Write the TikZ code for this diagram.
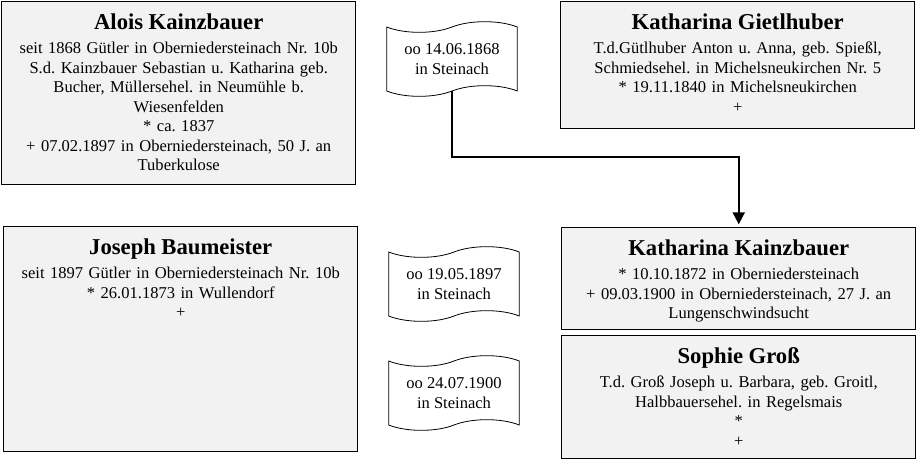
\documentclass[tikz,border=0pt]{standalone}
\usepackage{fontspec}
\setmainfont{Liberation Serif}
\usetikzlibrary{shapes.symbols,arrows.meta}

\definecolor{boxgray}{HTML}{F2F2F2}
\newcommand{\fullname}[1]{{\fontsize{17}{18}\selectfont\bfseries #1}}
\frenchspacing

\begin{document}
\begin{tikzpicture}[x=0.75pt, y=-0.75pt,
  person/.style={draw=black, line width=1.1pt, fill=boxgray, anchor=north west,
    inner sep=0pt, text width=265.5pt, align=center,
    font=\fontsize{12.4}{14.6}\selectfont, text height=21pt, text depth=#1},
  marriage/.style={tape, draw=black, line width=0.6pt, fill=white,
    minimum width=98pt, minimum height=56pt, tape bend height=8pt, align=center,
    font=\fontsize{12.4}{14.6}\selectfont},
  link/.style={line width=1.5pt, -{Triangle[length=9pt,width=9pt]}, shorten >=2pt}]
  \useasboundingbox (0,0) rectangle (916,461);

  % parents
  \node[person=116.25pt] (alois) at (1,1) {\fullname{Alois Kainzbauer}\\[3.4pt]
    seit 1868 Gütler in Oberniedersteinach Nr. 10b\\
    S.d. Kainzbauer Sebastian u. Katharina geb.\\
    Bucher, Müllersehel. in Neumühle b.\\
    Wiesenfelden\\
    {}* ca. 1837\\
    + 07.02.1897 in Oberniedersteinach, 50 J. an\\
    Tuberkulose};
  \node[person=74.25pt] (giet) at (560,1) {\fullname{Katharina Gietlhuber}\\[3.4pt]
    T.d.Gütlhuber Anton u. Anna, geb. Spießl,\\
    Schmiedsehel. in Michelsneukirchen Nr. 5\\
    {}* 19.11.1840 in Michelsneukirchen\\
    +};

  % daughter and spouses
  \node[person=147.75pt] (joseph) at (3,226) {\fullname{Joseph Baumeister}\\[3.4pt]
    seit 1897 Gütler in Oberniedersteinach Nr. 10b\\
    {}* 26.01.1873 in Wullendorf\\
    +};
  \node[person=55.5pt] (kk) at (561,227) {\fullname{Katharina Kainzbauer}\\[3.4pt]
    {}* 10.10.1872 in Oberniedersteinach\\
    + 09.03.1900 in Oberniedersteinach, 27 J. an\\
    Lungenschwindsucht};
  \node[person=71.25pt] (sophie) at (561,335) {\fullname{Sophie Groß}\\[3.4pt]
    T.d. Groß Joseph u. Barbara, geb. Groitl,\\
    Halbbauersehel. in Regelsmais\\
    {}*\\
    +};

  % marriages
  \node[marriage] (wed1) at (452,59) {oo 14.06.1868\\in Steinach};
  \node[marriage] (wed2) at (454,284) {oo 19.05.1897\\in Steinach};
  \node[marriage] (wed3) at (454,393) {oo 24.07.1900\\in Steinach};

  \draw[link] (wed1.south) -- ++(0,66) -| (kk.north);
\end{tikzpicture}
\end{document}
